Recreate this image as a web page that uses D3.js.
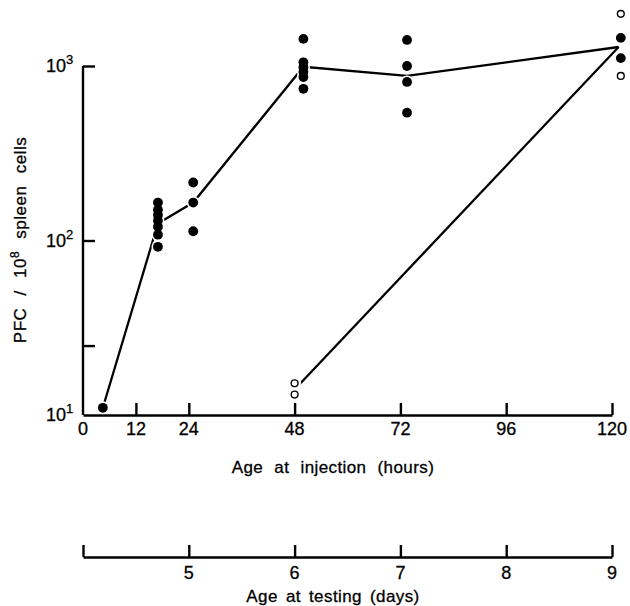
<!DOCTYPE html>
<html>
<head>
<meta charset="utf-8">
<script src="https://cdn.jsdelivr.net/npm/d3@7"></script>
<style>
  body { margin: 0; background: #fff; }
  svg text { font-family: "Liberation Sans", Arial, sans-serif; fill: #000; stroke: #000; stroke-width: 0.3px; }
</style>
</head>
<body>
<div id="chart-root"></div>
<script>
// ---- data ----
// groups of mice injected at a given age (hours), PFC per 10^8 spleen cells
var injectionHours = [4.5, 17, 25, 50, 73.5, 122];
var pfcFilled = [
    [11],
    [165, 150, 140, 130, 120, 108, 92],
    [215, 165, 113],
    [1430, 1050, 985, 925, 865, 740],
    [1410, 1000, 810, 540],
    [1450, 1110]
];
// line through the group means (filled)
var meanHours = [4.5, 17, 25, 50, 73.5, 121.5];
var meanPfc = [11, 125, 165, 990, 877, 1285];

// open circles
var openHours = [48, 122];
var pfcOpen = [
    [15.2, 13.1],
    [1990, 877]
];
var openMeanHours = [48, 121.5];
var openMeanPfc = [14, 1285];

// axes
var hourTicks = [0, 12, 24, 48, 72, 96, 120];
var pfcTicks = [10, 25, 100, 1000];
var pfcLabels = { 10: "1", 100: "2", 1000: "3" };
var dayTicks = [4, 5, 6, 7, 8, 9];
var dayLabels = ["", "5", "6", "7", "8", "9"];

// ---- chart ----
var width = 630, height = 606;
var plotLeft = 83, plotRight = 612, plotTop = 66, plotBottom = 415;
var daysAxisY = 557;

var svg = d3.select("#chart-root")
    .append("svg")
    .attr("width", width)
    .attr("height", height);

var x = d3.scaleLinear().domain([0, 120]).range([plotLeft, plotRight]);
var y = d3.scaleLog().domain([10, 1000]).range([plotBottom, plotTop]);
var xDays = d3.scaleLinear().domain([4, 9]).range([plotLeft, plotRight]);

// y axis (ticks pointing inward)
var yAxis = svg.append("g")
    .attr("transform", "translate(" + plotLeft + ",0)")
    .call(d3.axisRight(y).tickValues(pfcTicks).tickSize(12).tickFormat(""));
yAxis.select(".domain").attr("d", "M0," + y(1000) + "V" + plotBottom);
yAxis.selectAll("line, path").attr("stroke", "#000").attr("stroke-width", 2.4);
yAxis.selectAll(".tick").filter(function (d) { return d === 10; }).remove();

// y tick labels 10^n
pfcTicks.filter(function (d) { return pfcLabels[d]; }).forEach(function (d) {
    var t = svg.append("text")
        .attr("x", 46)
        .attr("y", y(d) + 6)
        .style("font-size", "18px");
    t.append("tspan").text("10");
    t.append("tspan")
        .attr("dy", -8)
        .style("font-size", "13px")
        .text(pfcLabels[d]);
});

// x axis (hours), ticks pointing up
var xAxis = svg.append("g")
    .attr("transform", "translate(0," + plotBottom + ")")
    .call(d3.axisTop(x).tickValues(hourTicks.slice(1)).tickSize(12).tickSizeOuter(0).tickFormat(""));
xAxis.selectAll("line, path").attr("stroke", "#000").attr("stroke-width", 2.4);

svg.selectAll(".hour-label")
    .data(hourTicks)
    .enter().append("text")
    .attr("class", "hour-label")
    .attr("x", function (d) { return x(d); })
    .attr("y", plotBottom + 20)
    .attr("text-anchor", "middle")
    .style("font-size", "18px")
    .text(function (d) { return d; });

svg.append("text")
    .attr("x", 333)
    .attr("y", 473)
    .attr("text-anchor", "middle")
    .style("font-size", "17px")
    .style("word-spacing", "6px")
    .style("letter-spacing", "0.4px")
    .text("Age at injection (hours)");

// y title
svg.append("text")
    .attr("transform", "translate(26,240) rotate(-90)")
    .attr("text-anchor", "middle")
    .style("font-size", "17px")
    .style("word-spacing", "7px")
    .style("letter-spacing", "0.5px")
    .html("PFC / 10<tspan dy='-7' style='font-size:12px'>8</tspan><tspan dy='7'> spleen cells</tspan>");

// second axis: age at testing (days)
var dAxis = svg.append("g")
    .attr("transform", "translate(0," + daysAxisY + ")")
    .call(d3.axisTop(xDays).tickValues(dayTicks).tickSize(12).tickSizeOuter(0).tickFormat(""));
dAxis.selectAll("line, path").attr("stroke", "#000").attr("stroke-width", 2.4);

svg.selectAll(".day-label")
    .data(dayTicks)
    .enter().append("text")
    .attr("class", "day-label")
    .attr("x", function (d) { return xDays(d); })
    .attr("y", daysAxisY + 22)
    .attr("text-anchor", "middle")
    .style("font-size", "18px")
    .text(function (d, i) { return dayLabels[i]; });

svg.append("text")
    .attr("x", 333)
    .attr("y", 602)
    .attr("text-anchor", "middle")
    .style("font-size", "17px")
    .style("word-spacing", "3px")
    .style("letter-spacing", "0.4px")
    .text("Age at testing (days)");

// lines
var line = d3.line()
    .x(function (d) { return x(d[0]); })
    .y(function (d) { return y(d[1]); });

svg.append("path")
    .attr("d", line(d3.zip(meanHours, meanPfc)))
    .attr("fill", "none")
    .attr("stroke", "#000")
    .attr("stroke-width", 2.3);

svg.append("path")
    .attr("d", line(d3.zip(openMeanHours, openMeanPfc)))
    .attr("fill", "none")
    .attr("stroke", "#000")
    .attr("stroke-width", 2.3);

// flatten the points
var filledPts = [];
injectionHours.forEach(function (h, i) {
    pfcFilled[i].forEach(function (v) { filledPts.push({ h: h, v: v }); });
});
var openPts = [];
openHours.forEach(function (h, i) {
    pfcOpen[i].forEach(function (v) { openPts.push({ h: h, v: v }); });
});

// white halos so the line stops short of the dots
svg.append("g").selectAll("circle")
    .data(filledPts.concat(openPts))
    .enter().append("circle")
    .attr("cx", function (d) { return x(d.h); })
    .attr("cy", function (d) { return y(d.v); })
    .attr("r", 6.5)
    .attr("fill", "#fff");

svg.append("g").selectAll("circle")
    .data(filledPts)
    .enter().append("circle")
    .attr("cx", function (d) { return x(d.h); })
    .attr("cy", function (d) { return y(d.v); })
    .attr("r", 4.9)
    .attr("fill", "#000");

svg.append("g").selectAll("circle")
    .data(openPts)
    .enter().append("circle")
    .attr("cx", function (d) { return x(d.h); })
    .attr("cy", function (d) { return y(d.v); })
    .attr("r", 3.4)
    .attr("fill", "#fff")
    .attr("stroke", "#000")
    .attr("stroke-width", 1.4);
</script>
</body>
</html>
